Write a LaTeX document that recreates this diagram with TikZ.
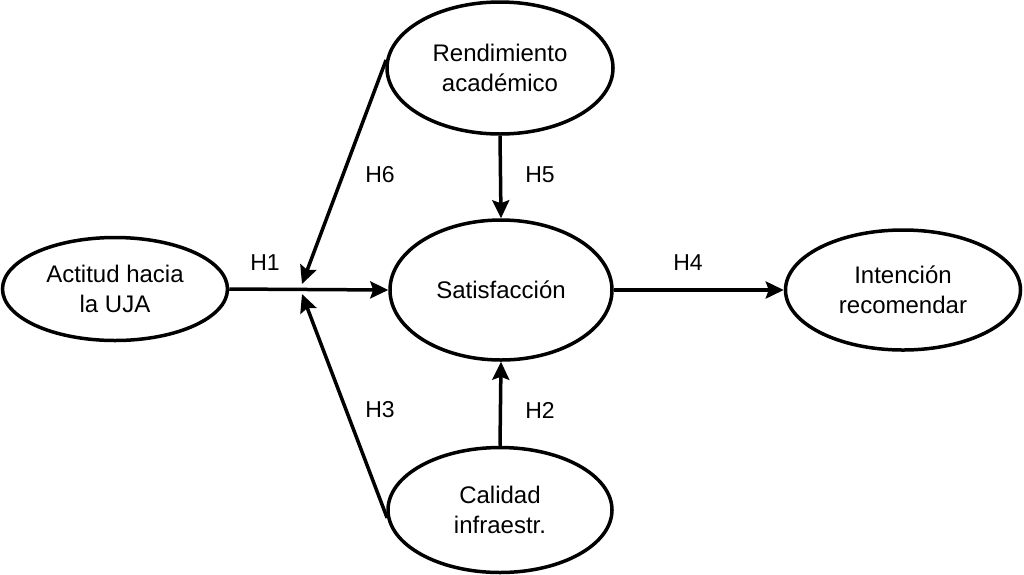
\documentclass[tikz,border=0pt]{standalone}
\usepackage{fontspec}
\setmainfont{Liberation Sans}
\usetikzlibrary{shapes.geometric,arrows.meta}
\begin{document}
\begin{tikzpicture}[x=1pt,y=-1pt,
  construct/.style={ellipse,draw=black,line width=3.5pt,inner sep=0pt,align=center,
    font=\fontsize{24}{30}\selectfont},
  link/.style={line width=3.5pt,-{Stealth[length=18pt,width=17pt,inset=3pt]}},
  hlabel/.style={font=\fontsize{23}{27}\selectfont}]
\useasboundingbox (0,0) rectangle (1024,574);
\node[construct,minimum width=225pt,minimum height=103pt] (act) at (115,289) {Actitud hacia\\la UJA};
\node[construct,minimum width=226pt,minimum height=132pt] (ren) at (500,68) {Rendimiento\\académico};
\node[construct,minimum width=222pt,minimum height=140pt] (sat) at (501,290) {Satisfacción};
\node[construct,minimum width=224pt,minimum height=125pt] (cal) at (500,510) {Calidad\\infraestr.};
\node[construct,minimum width=235pt,minimum height=120pt] (int) at (903,290) {Intención\\recomendar};
\coordinate (j6) at (302,284);
\coordinate (j3) at (302,294);
\draw[link] (act.east) -- (sat.west);
\draw[link] (ren.176) -- (j6);
\draw[link] (cal.184) -- (j3);
\draw[link] (ren.south) -- (sat.north);
\draw[link] (cal.north) -- (sat.south);
\draw[link] (sat.east) -- (int.west);
\node[hlabel] (h1) at (265,263) {H1};
\node[hlabel] (h6) at (380,175) {H6};
\node[hlabel] (h5) at (540,175) {H5};
\node[hlabel] (h4) at (688,263) {H4};
\node[hlabel] (h3) at (380,410) {H3};
\node[hlabel] (h2) at (540,410) {H2};
\end{tikzpicture}
\end{document}
